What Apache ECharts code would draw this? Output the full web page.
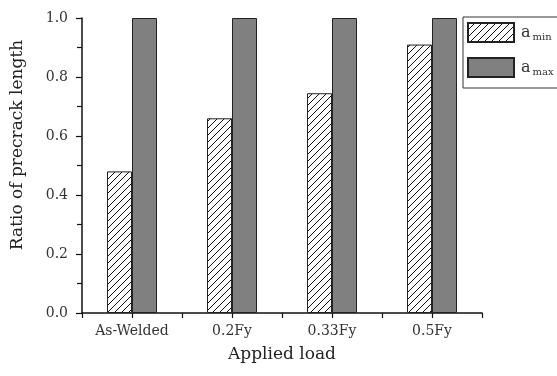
<!DOCTYPE html>
<html>
<head>
<meta charset="utf-8">
<script src="https://cdn.jsdelivr.net/npm/echarts@6/dist/echarts.min.js"></script>
<style>
html,body{margin:0;padding:0;background:#fff;}
#chart{width:557px;height:376px;}
</style>
</head>
<body>
<div id="chart"></div>
<script>
var categories = ['As-Welded', '0.2Fy', '0.33Fy', '0.5Fy'];
var aMin = [0.48, 0.66, 0.745, 0.91];
var aMax = [1.0, 1.0, 1.0, 1.0];
var seriesNames = ['a min', 'a max'];
var yTicks = [0, 0.2, 0.4, 0.6, 0.8, 1.0];
var xTitle = 'Applied load';
var yTitle = 'Ratio of precrack length';

function hatch() {
  var s = 7;
  var c = document.createElement('canvas');
  c.width = s; c.height = s;
  var g = c.getContext('2d');
  g.fillStyle = '#fff';
  g.fillRect(0, 0, s, s);
  g.strokeStyle = '#111';
  g.lineWidth = 1;
  g.beginPath();
  g.moveTo(-1, s + 1); g.lineTo(s + 1, -1);
  g.moveTo(-1, 1); g.lineTo(1, -1);
  g.moveTo(s - 1, s + 1); g.lineTo(s + 1, s - 1);
  g.stroke();
  return c;
}

var font = '"DejaVu Serif", serif';
var chart = echarts.init(document.getElementById('chart'), null, {renderer: 'canvas'});
chart.setOption({
  animation: false,
  backgroundColor: '#fff',
  textStyle: {fontFamily: font},
  grid: {left: 82, right: 75, top: 18, bottom: 63},
  legend: {
    orient: 'vertical',
    left: 463, top: 17,
    padding: [5, 40, 10, 4],
    itemWidth: 46, itemHeight: 19, itemGap: 14,
    icon: 'rect',
    borderColor: '#333', borderWidth: 1,
    data: seriesNames,
    formatter: function (name) {
      var p = name.split(' ');
      return '{a|' + p[0] + '}{s|' + p[1] + '}';
    },
    textStyle: {
      fontFamily: font,
      rich: {
        a: {fontFamily: font, fontSize: 16, color: '#333', padding: [0, 2, 0, 2]},
        s: {fontFamily: font, fontSize: 10, color: '#333', padding: [10, 0, 0, 0]}
      }
    }
  },
  graphic: [{
    type: 'text',
    x: 18, y: 145,
    rotation: Math.PI / 2,
    style: {text: yTitle, font: '17px ' + font, fill: '#222', textAlign: 'center', textVerticalAlign: 'middle'}
  }],
  xAxis: [{
    type: 'category',
    data: categories,
    position: 'bottom',
    axisLine: {show: true, lineStyle: {color: '#111', width: 1.5}},
    axisTick: {show: false},
    axisLabel: {fontFamily: font, fontSize: 14, color: '#333', margin: 11},
    name: xTitle,
    nameLocation: 'middle',
    nameGap: 33,
    nameTextStyle: {fontFamily: font, fontSize: 17, color: '#222'}
  }, {
    type: 'value',
    position: 'bottom',
    min: 0, max: 4, interval: 0.5,
    axisLine: {show: false},
    axisTick: {show: true, length: 5, lineStyle: {color: '#111', width: 1.2}},
    axisLabel: {show: false},
    splitLine: {show: false}
  }],
  yAxis: {
    type: 'value',
    min: yTicks[0], max: yTicks[yTicks.length - 1], interval: 0.2,
    axisLine: {show: true, lineStyle: {color: '#111', width: 1.5}},
    axisTick: {show: true, length: 6, lineStyle: {color: '#111', width: 1.2}},
    minorTick: {show: true, splitNumber: 2, length: 5, lineStyle: {color: '#111', width: 1.2}},
    splitLine: {show: false},
    axisLabel: {fontFamily: font, fontSize: 14, color: '#333', margin: 14,
      formatter: function (v) { return v.toFixed(1); }}
  },
  series: [{
    name: seriesNames[0],
    type: 'bar',
    xAxisIndex: 0,
    data: aMin,
    barGap: '0%',
    barCategoryGap: '50%',
    itemStyle: {color: {image: hatch(), repeat: 'repeat'}, borderColor: '#222', borderWidth: 1}
  }, {
    name: seriesNames[1],
    type: 'bar',
    xAxisIndex: 0,
    data: aMax,
    barGap: '0%',
    barCategoryGap: '50%',
    itemStyle: {color: '#808080', borderColor: '#222', borderWidth: 1}
  }]
});
</script>
</body>
</html>
